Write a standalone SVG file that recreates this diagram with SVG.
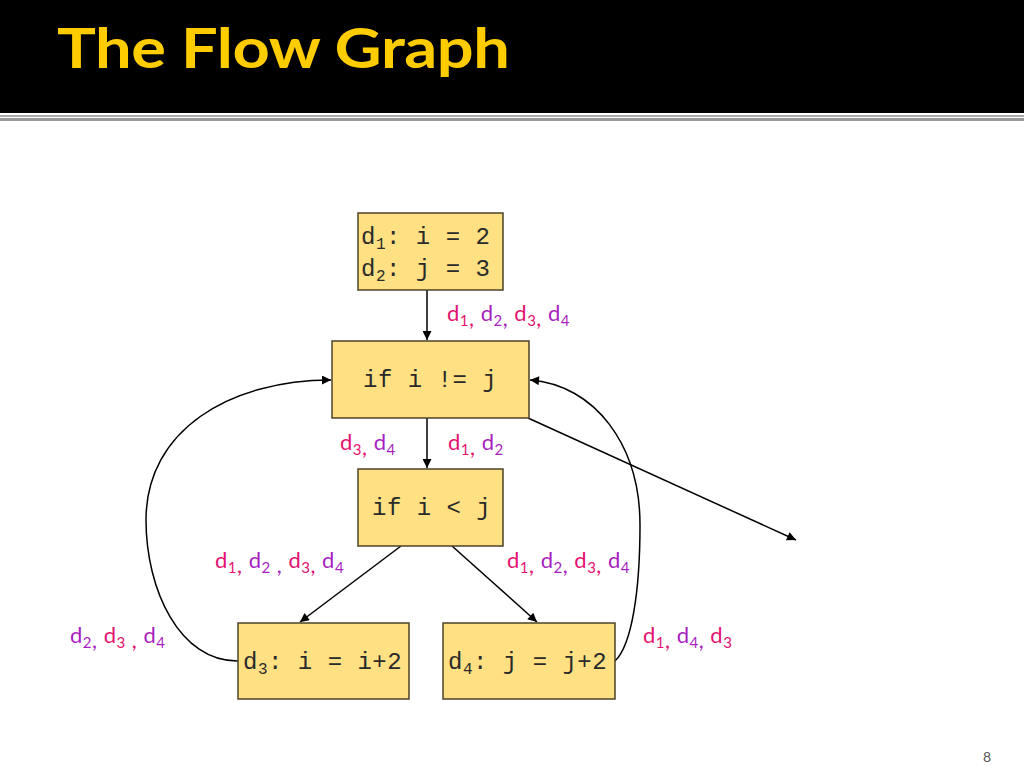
<svg xmlns="http://www.w3.org/2000/svg" width="1024" height="768" viewBox="0 0 1024 768">
<defs>
<marker id="ah" viewBox="0 0 10 10" refX="10" refY="5" markerWidth="11" markerHeight="9" markerUnits="userSpaceOnUse" orient="auto">
<path d="M0,0 L10,5 L0,10 z" fill="#000"/>
</marker>
<style>
.box{fill:#FFE083;stroke:#4E4228;stroke-width:1.5}
.code{font-family:"Liberation Mono","Courier New",monospace;font-size:24px;fill:#2a2a2a;letter-spacing:0.5px}
.sub{font-size:16px}
.lab{font-family:Lato,"Open Sans",sans-serif;font-size:22px;letter-spacing:0.5px}
.ls{font-size:15px}
.p{fill:#E3126F}
.v{fill:#A81FC0}
.edge{fill:none;stroke:#000;stroke-width:1.5;marker-end:url(#ah)}
</style>
</defs>
<rect x="0" y="0" width="1024" height="768" fill="#fff"/>
<rect x="0" y="0" width="1024" height="113" fill="#000"/>
<rect x="0" y="115" width="1024" height="2" fill="#aaa"/>
<rect x="0" y="118" width="1024" height="3" fill="#999"/>
<text transform="translate(57,68) scale(1,0.86)" x="0" y="0" font-family="Lato,'Open Sans',sans-serif" font-weight="bold" font-size="65" fill="#FFCC00" textLength="453" lengthAdjust="spacing">The Flow Graph</text>
<text x="983" y="762" font-family="Lato,'Open Sans',sans-serif" font-size="14" fill="#555">8</text>

<g id="edges">
<line class="edge" x1="427" y1="290" x2="427" y2="340"/>
<line class="edge" x1="427" y1="418" x2="427" y2="468"/>
<line class="edge" x1="401" y1="546" x2="300" y2="622"/>
<line class="edge" x1="452" y1="546" x2="537" y2="622"/>
<line class="edge" x1="528" y1="418" x2="796" y2="540"/>
<path class="edge" d="M238,661 C180,662 146,590 146,520 C146,430 230,380 331,380"/>
<path class="edge" d="M615,661 C632,645 640,590 640,525 C640,445 595,385 530,380"/>
</g>

<g id="n1">
<rect class="box" x="358" y="213" width="145" height="77"/>
<text class="code" x="361" y="244">d<tspan class="sub" dy="5">1</tspan><tspan dy="-5">: i = 2</tspan></text>
<text class="code" x="361" y="276">d<tspan class="sub" dy="5">2</tspan><tspan dy="-5">: j = 3</tspan></text>
</g>
<g id="n2">
<rect class="box" x="332" y="341" width="197" height="77"/>
<text class="code" x="363" y="387">if i != j</text>
</g>
<g id="n3">
<rect class="box" x="358" y="469" width="145" height="77"/>
<text class="code" x="372" y="515">if i &lt; j</text>
</g>
<g id="n4">
<rect class="box" x="238" y="623" width="171" height="76"/>
<text class="code" x="243" y="669">d<tspan class="sub" dy="5">3</tspan><tspan dy="-5">: i = i+2</tspan></text>
</g>
<g id="n5">
<rect class="box" x="443" y="623" width="172" height="76"/>
<text class="code" x="448" y="669">d<tspan class="sub" dy="5">4</tspan><tspan dy="-5">: j = j+2</tspan></text>
</g>

<g id="labels" class="lab">
<text x="447" y="321"><tspan class="p">d<tspan class="ls" dy="5">1</tspan>,</tspan><tspan class="v" dy="-5"> d<tspan class="ls" dy="5">2</tspan>,</tspan><tspan class="p" dy="-5"> d<tspan class="ls" dy="5">3</tspan>,</tspan><tspan class="v" dy="-5"> d<tspan class="ls" dy="5">4</tspan></tspan></text>
<text x="340" y="450"><tspan class="p">d<tspan class="ls" dy="5">3</tspan>,</tspan><tspan class="v" dy="-5"> d<tspan class="ls" dy="5">4</tspan></tspan></text>
<text x="448" y="450"><tspan class="p">d<tspan class="ls" dy="5">1</tspan>,</tspan><tspan class="v" dy="-5"> d<tspan class="ls" dy="5">2</tspan></tspan></text>
<text x="215" y="568"><tspan class="p">d<tspan class="ls" dy="5">1</tspan>,</tspan><tspan class="v" dy="-5"> d<tspan class="ls" dy="5">2</tspan> ,</tspan><tspan class="p" dy="-5"> d<tspan class="ls" dy="5">3</tspan>,</tspan><tspan class="v" dy="-5"> d<tspan class="ls" dy="5">4</tspan></tspan></text>
<text x="507" y="568"><tspan class="p">d<tspan class="ls" dy="5">1</tspan>,</tspan><tspan class="v" dy="-5"> d<tspan class="ls" dy="5">2</tspan>,</tspan><tspan class="p" dy="-5"> d<tspan class="ls" dy="5">3</tspan>,</tspan><tspan class="v" dy="-5"> d<tspan class="ls" dy="5">4</tspan></tspan></text>
<text x="70" y="643"><tspan class="v">d<tspan class="ls" dy="5">2</tspan>,</tspan><tspan class="p" dy="-5"> d<tspan class="ls" dy="5">3</tspan> ,</tspan><tspan class="v" dy="-5"> d<tspan class="ls" dy="5">4</tspan></tspan></text>
<text x="643" y="643"><tspan class="p">d<tspan class="ls" dy="5">1</tspan>,</tspan><tspan class="v" dy="-5"> d<tspan class="ls" dy="5">4</tspan>,</tspan><tspan class="p" dy="-5"> d<tspan class="ls" dy="5">3</tspan></tspan></text>
</g>
</svg>
